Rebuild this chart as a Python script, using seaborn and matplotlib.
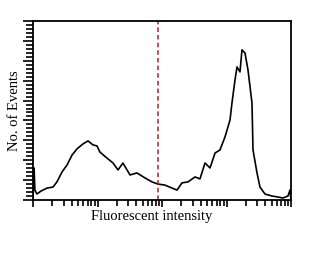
import matplotlib
matplotlib.use("Agg")
import matplotlib.pyplot as plt
import seaborn as sns
import pandas as pd
from matplotlib.ticker import LogLocator, MultipleLocator, NullFormatter

# Data (fluorescence intensity, event counts)
intensity = [1.0, 1.04, 1.07, 1.15, 1.33, 1.65, 2.04, 2.35, 2.82, 3.37, 4.03, 4.81,
             5.96, 7.13, 8.51, 9.82, 10.9, 14.0, 17.4, 20.8, 24.8, 31.9, 40.9, 54.5,
             70.0, 86.7, 111, 143, 171, 204, 253, 325, 388, 464, 555, 664, 793, 948,
             1133, 1216, 1355, 1455, 1618, 1738, 1936, 2153, 2483, 2576, 2972, 3304,
             3954, 5070, 6281, 7516, 8974, 9638, 10000]
events = [0, 161, 50, 30, 45, 60, 65, 91, 141, 176, 226, 257,
          282, 297, 277, 272, 241, 211, 186, 151, 186, 126, 136, 111,
          91, 80, 75, 60, 50, 86, 91, 116, 106, 186, 161, 236, 252, 317,
          402, 488, 604, 669, 644, 755, 739, 654, 488, 252, 136, 65,
          30, 20, 15, 10, 20, 50, 0]
gate_position = 86.7

df = pd.DataFrame({"intensity": intensity, "events": events})

sns.set_style("white")
plt.rcParams['font.family'] = ['Liberation Serif', 'DejaVu Serif']

fig = plt.figure(figsize=(3.15, 2.59), dpi=100)
ax = fig.add_axes([33/315, 1-200/259, (291-33)/315, (200-21)/259])

sns.lineplot(data=df, x="intensity", y="events", ax=ax, color="black",
             linewidth=1.2, sort=False, estimator=None)
ax.axvline(gate_position, color="#a3262e", linestyle=(0, (3, 2)), linewidth=1.1)

ax.set_xscale("log")
ax.set_xlim(1, 10000)
ax.set_ylim(0, 900)

ax.xaxis.set_major_locator(LogLocator(base=10, numticks=10))
ax.xaxis.set_minor_locator(LogLocator(base=10, subs=range(2, 10), numticks=50))
ax.xaxis.set_major_formatter(NullFormatter())
ax.xaxis.set_minor_formatter(NullFormatter())
ax.yaxis.set_major_locator(MultipleLocator(100))
ax.yaxis.set_minor_locator(MultipleLocator(20))
ax.yaxis.set_major_formatter(NullFormatter())

ax.tick_params(axis="x", which="major", direction="out", length=5, width=1.2,
               bottom=True, top=False, color="black")
ax.tick_params(axis="x", which="minor", direction="out", length=4, width=1.2,
               bottom=True, top=False, color="black")
ax.tick_params(axis="y", which="major", direction="out", length=7, width=1.2,
               left=True, right=False, color="black")
ax.tick_params(axis="y", which="minor", direction="out", length=5, width=1.2,
               left=True, right=False, color="black")

for s in ax.spines.values():
    s.set_color("black")
    s.set_linewidth(1.3)

ax.set_xlabel("Fluorescent intensity", fontsize=10.5, color="black")
ax.set_ylabel("No. of Events", fontsize=10.5, color="black")
ax.xaxis.set_label_coords(0.46, -0.055, transform=ax.transAxes)
ax.yaxis.set_label_coords(-0.047, 0.5, transform=ax.transAxes)
ax.xaxis.label.set_va("top")

fig.savefig("out.png", dpi=100)
